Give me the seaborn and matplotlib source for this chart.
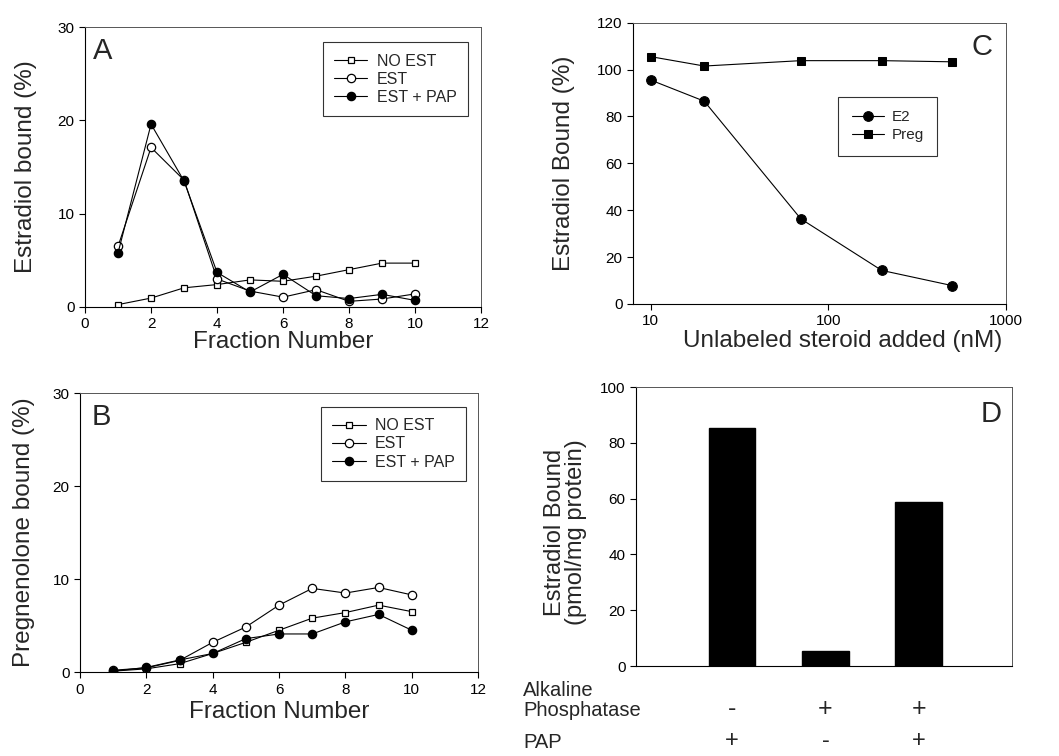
import numpy as np
import pandas as pd
import matplotlib
matplotlib.use("Agg")
import matplotlib.pyplot as plt
import matplotlib.transforms as mtransforms
import seaborn as sns

# Panel A / B: fractions
fractions = [1, 2, 3, 4, 5, 6, 7, 8, 9, 10]
a_no_est = [0.25, 0.95, 2.05, 2.4, 2.9, 2.75, 3.3, 4.0, 4.7, 4.7]
a_est = [6.5, 17.1, 13.6, 3.0, 1.7, 1.05, 1.85, 0.6, 0.85, 1.4]
a_est_pap = [5.8, 19.6, 13.5, 3.7, 1.6, 3.5, 1.2, 0.9, 1.35, 0.7]

b_no_est = [0.1, 0.35, 0.9, 2.0, 3.2, 4.5, 5.8, 6.4, 7.2, 6.5]
b_est = [0.2, 0.45, 1.25, 3.2, 4.85, 7.2, 9.0, 8.5, 9.1, 8.3]
b_est_pap = [0.1, 0.5, 1.3, 2.0, 3.6, 4.1, 4.1, 5.4, 6.2, 4.5]

# Panel C: competition
conc_nm = [10, 20, 70, 200, 500]
c_e2 = [95.5, 86.5, 36.3, 14.3, 7.8]
c_preg = [105.5, 101.5, 103.8, 103.8, 103.3]

# Panel D: bars
d_groups = ["g1", "g2", "g3"]
d_values = [85.2, 5.4, 58.7]
alk_phos = ["-", "+", "+"]
pap_row = ["+", "-", "+"]

sns.set_theme(style="ticks")
plt.rcParams["font.family"] = ["Liberation Sans", "DejaVu Sans"]
plt.rcParams["axes.linewidth"] = 0.8
plt.rcParams["xtick.major.size"] = 4
plt.rcParams["ytick.major.size"] = 4
plt.rcParams["xtick.major.width"] = 0.8
plt.rcParams["ytick.major.width"] = 0.8
plt.rcParams["xtick.color"] = "black"
plt.rcParams["ytick.color"] = "black"

fig = plt.figure(figsize=(10.59, 7.56), dpi=100)
fig.patch.set_facecolor("white")

series_style = [
    ("NO EST", "s", "white", 4.5),
    ("EST", "o", "white", 6),
    ("EST + PAP", "o", "black", 6),
]


def style_box(ax):
    for side in ["top", "right"]:
        ax.spines[side].set_visible(True)
        ax.spines[side].set_color("#555555")
        ax.spines[side].set_linewidth(0.7)
    for side in ["left", "bottom"]:
        ax.spines[side].set_color("black")
    ax.tick_params(labelsize=11, colors="black", direction="out")
    ax.set_facecolor("white")


def fraction_panel(rect, data, ylabel, letter, lx, ylab_x, xlab_y, leg_anchor):
    ax = fig.add_axes(rect)
    for (name, mk, fc, ms), ys in zip(series_style, data):
        sns.lineplot(x=fractions, y=ys, ax=ax, color="black", linewidth=0.8,
                     marker=mk, markerfacecolor=fc, markeredgecolor="black",
                     markeredgewidth=0.9, markersize=ms, label=name)
    ax.set_xlim(0, 12)
    ax.set_ylim(0, 30)
    ax.set_xticks(range(0, 13, 2))
    ax.set_yticks([0, 10, 20, 30])
    ax.set_xlabel("Fraction Number", fontsize=17.5)
    ax.set_ylabel(ylabel, fontsize=17.5)
    ax.xaxis.set_label_coords(0.5, xlab_y)
    ax.yaxis.set_label_coords(ylab_x, 0.5)
    style_box(ax)
    leg = ax.legend(loc="upper right", bbox_to_anchor=leg_anchor, fontsize=11.5,
                    frameon=True, fancybox=False, edgecolor="black",
                    handlelength=2.1, handletextpad=0.6, borderpad=0.7,
                    labelspacing=0.2, borderaxespad=0)
    leg.get_frame().set_linewidth(0.8)
    ax.text(lx, 0.965, letter, transform=ax.transAxes, fontsize=21,
            ha="left", va="top")
    return ax


fraction_panel([0.0803, 0.594, 0.374, 0.370], [a_no_est, a_est, a_est_pap],
               "Estradiol bound (%)", "A", 0.02, -0.121, -0.086, (0.967, 0.946))
fraction_panel([0.0755, 0.111, 0.376, 0.369], [b_no_est, b_est, b_est_pap],
               "Pregnenolone bound (%)", "B", 0.03, -0.113, -0.104, (0.97, 0.95))

# Panel C
axc = fig.add_axes([0.5977, 0.598, 0.352, 0.372])
sns.lineplot(x=conc_nm, y=c_e2, ax=axc, color="black", linewidth=0.8,
             marker="o", markerfacecolor="black", markeredgecolor="black",
             markersize=7, label="E2")
sns.lineplot(x=conc_nm, y=c_preg, ax=axc, color="black", linewidth=0.8,
             marker="s", markerfacecolor="black", markeredgecolor="black",
             markersize=5.5, label="Preg")
axc.set_xscale("log")
axc.set_xlim(7.93, 1000)
axc.set_ylim(0, 120)
axc.set_xticks([10, 100, 1000])
axc.set_xticklabels(["10", "100", "1000"])
axc.minorticks_off()
axc.set_yticks(range(0, 121, 20))
axc.set_xlabel("Unlabeled steroid added (nM)", fontsize=17.5)
axc.set_ylabel("Estradiol Bound (%)", fontsize=17.5)
axc.xaxis.set_label_coords(0.563, -0.093)
axc.yaxis.set_label_coords(-0.155, 0.5)
style_box(axc)
legc = axc.legend(loc="upper left", bbox_to_anchor=(0.55, 0.737), fontsize=11,
                  frameon=True, fancybox=False, edgecolor="black",
                  handlelength=2.1, handletextpad=0.5, borderpad=0.9,
                  labelspacing=0.25, borderaxespad=0)
legc.get_frame().set_linewidth(0.8)
axc.text(0.965, 0.965, "C", transform=axc.transAxes, fontsize=21,
         ha="right", va="top")

# Panel D
axd = fig.add_axes([0.6006, 0.119, 0.355, 0.369])
df_d = pd.DataFrame({"group": d_groups, "value": d_values})
sns.barplot(data=df_d, x="group", y="value", ax=axd, color="black",
            width=0.5, saturation=1, edgecolor="black")
axd.set_xlim(-1.03, 3.0)
axd.set_ylim(0, 100)
axd.set_yticks(range(0, 101, 20))
axd.set_xticks([])
axd.set_xlabel("")
axd.set_ylabel("Estradiol Bound\n(pmol/mg protein)", fontsize=17, linespacing=0.95)
axd.yaxis.set_label_coords(-0.130, 0.48)
style_box(axd)
axd.text(0.973, 0.955, "D", transform=axd.transAxes, fontsize=21,
         ha="right", va="top")

blend = mtransforms.blended_transform_factory(axd.transData, fig.transFigure)
fig.text(0.494, 0.099, "Alkaline\nPhosphatase", fontsize=14.5, ha="left",
         va="top", linespacing=1.05)
fig.text(0.494, 0.018, "PAP", fontsize=14.5, ha="left", va="center")
for i, (s1, s2) in enumerate(zip(alk_phos, pap_row)):
    axd.text(i, 0.062, s1, transform=blend, fontsize=18, ha="center",
             va="center")
    axd.text(i, 0.020, s2, transform=blend, fontsize=17, ha="center",
             va="center")

fig.savefig("out.png", dpi=100, facecolor="white")
